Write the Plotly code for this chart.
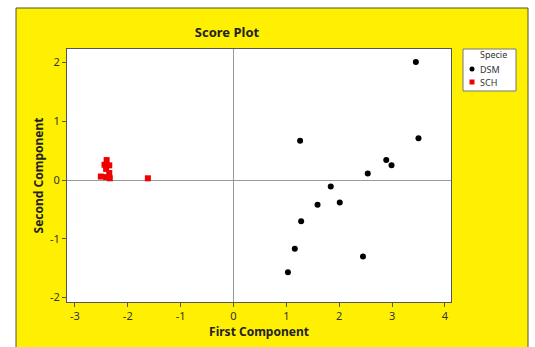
import plotly.graph_objects as go

# DSM scores (first, second component)
dsm_x = [3.45, 1.26, 3.50, 2.89, 2.99, 2.54, 1.84, 1.59, 2.01, 1.28, 1.16, 2.45, 1.03]
dsm_y = [2.01, 0.67, 0.71, 0.34, 0.25, 0.11, -0.11, -0.42, -0.38, -0.70, -1.17, -1.30, -1.57]

# SCH scores
sch_x = [-2.40, -2.44, -2.35, -2.41, -2.35, -2.51, -2.41, -2.34, -1.62]
sch_y = [0.34, 0.26, 0.25, 0.19, 0.12, 0.06, 0.05, 0.03, 0.03]

x_ticks = [-3, -2, -1, 0, 1, 2, 3, 4]
x_tick_labels = ["-3", "-2", "-1", "0", "1", "2", "3", "4"]
y_ticks = [-2, -1, 0, 1, 2]
y_tick_labels = ["-2", "-1", "0", "1", "2"]

series_names = ["DSM", "SCH"]
series_colors = ["black", "#ee0000"]
legend_title = "Specie"

FONT = "Noto Sans"
W, H = 535, 347
L, R, T, B = 67, 84, 49, 45
PW, PH = W - L - R, H - T - B

def px(xpix):
    return (xpix - L) / PW

def py(ypix):
    return (H - B - ypix) / PH

fig = go.Figure()
fig.add_trace(go.Scatter(x=dsm_x, y=dsm_y, mode="markers", name=series_names[0],
                         marker=dict(symbol="circle", size=6, color=series_colors[0])))
fig.add_trace(go.Scatter(x=sch_x, y=sch_y, mode="markers", name=series_names[1],
                         marker=dict(symbol="square", size=6, color=series_colors[1])))

shapes = [
    # white surround outside the yellow panel
    dict(type="rect", xref="paper", yref="paper", x0=px(-5), x1=px(16), y0=py(360), y1=py(-5),
         fillcolor="white", line=dict(width=0), layer="above"),
    dict(type="rect", xref="paper", yref="paper", x0=px(-5), x1=px(540), y0=py(8), y1=py(-5),
         fillcolor="white", line=dict(width=0), layer="above"),
    dict(type="rect", xref="paper", yref="paper", x0=px(528), x1=px(540), y0=py(360), y1=py(-5),
         fillcolor="white", line=dict(width=0), layer="above"),
    # panel border
    dict(type="rect", xref="paper", yref="paper", x0=px(16), x1=px(528), y0=py(360), y1=py(8),
         fillcolor="rgba(0,0,0,0)", line=dict(color="#555533", width=1), layer="above"),
    # legend box
    dict(type="rect", xref="paper", yref="paper", x0=px(463), x1=px(516), y0=py(91), y1=py(49),
         fillcolor="white", line=dict(color="#777777", width=1), layer="above"),
    # legend symbols
    dict(type="circle", xref="paper", yref="paper", x0=px(469.5), x1=px(474.5), y0=py(71.5), y1=py(66.5),
         fillcolor=series_colors[0], line=dict(width=0), layer="above"),
    dict(type="rect", xref="paper", yref="paper", x0=px(469.5), x1=px(474.5), y0=py(84.5), y1=py(79.5),
         fillcolor=series_colors[1], line=dict(width=0), layer="above"),
]

annotations = [
    dict(text=legend_title, xref="paper", yref="paper", x=px(509), y=py(55), xanchor="right",
         yanchor="middle", showarrow=False, font=dict(size=9, color="#333333")),
    dict(text=series_names[0], xref="paper", yref="paper", x=px(478), y=py(69), xanchor="left",
         yanchor="middle", showarrow=False, font=dict(size=9, color="#333333")),
    dict(text=series_names[1], xref="paper", yref="paper", x=px(478), y=py(82), xanchor="left",
         yanchor="middle", showarrow=False, font=dict(size=9, color="#333333")),
]

fig.update_layout(
    width=W, height=H,
    margin=dict(l=L, r=R, t=T, b=B),
    paper_bgcolor="#ffef00",
    plot_bgcolor="white",
    font=dict(family=FONT, color="#333333", size=11),
    title=dict(text="<b>Score Plot</b>", x=px(227), xanchor="center", xref="paper",
               y=1 - 32 / H, yanchor="middle", font=dict(size=13, color="#222222")),
    shapes=shapes,
    annotations=annotations,
    showlegend=False,
)

axis_common = dict(showgrid=False, showline=True, mirror=True, linecolor="#555555", linewidth=1,
                   ticks="outside", ticklen=4, tickcolor="#555555",
                   zeroline=True, zerolinecolor="#999999", zerolinewidth=1,
                   tickfont=dict(size=11, color="#333333"))

fig.update_xaxes(range=[-3.15, 4.115], tickvals=x_ticks, ticktext=x_tick_labels, **axis_common,
                 title=dict(text="<b>First Component</b>", font=dict(size=12, color="#222222"), standoff=4))
fig.update_yaxes(range=[-2.075, 2.23], tickvals=y_ticks, ticktext=y_tick_labels, **axis_common,
                 title=dict(text="<b>Second Component</b>", font=dict(size=12, color="#222222"), standoff=3))

fig.write_html("out.html",
               config={"displayModeBar": False},
               post_script="document.body.style.margin='0';document.body.style.overflow='hidden';")
